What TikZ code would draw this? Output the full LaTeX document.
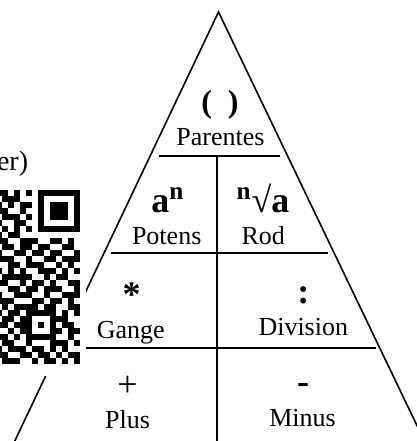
\documentclass[tikz,border=0pt]{standalone}
\usepackage{fontspec}
\setmainfont{Liberation Serif}
\makeatletter
% one row of the code: row number, bits of columns 15..28
\newcommand\qrrow[2]{%
  \pgfmathsetmacro\qry{190+6*#1}%
  \def\qrx{-4}%
  \@tfor\qrb:=#2\do{%
    \ifnum\qrb=1 \fill (\qrx,\qry) rectangle ++(6,6);\fi
    \pgfmathsetmacro\qrx{\qrx+6}}}
\makeatother
\begin{document}
\begin{tikzpicture}[x=0.5pt,y=-0.5pt]
  \tikzset{ lbl/.style={font=\fontsize{13}{15}\selectfont,anchor=base},
    sym/.style={font=\fontsize{18}{20}\selectfont\bfseries,anchor=base},
    tri/.style={line width=0.8pt},
    divider/.style={line width=1pt},
  }
  \useasboundingbox (0,0) rectangle (417,441);
  \clip (0,0) rectangle (417,441);

  % the triangle
  \coordinate (apex) at (218.5,12);
  \coordinate (bl) at (1,470);
  \coordinate (br) at (438.3,470);
  \draw[tri] (bl) -- (apex) -- (br);

  % the rows and the middle line
  \draw[divider] (159,156) -- (280,156);
  \draw[divider] (110.7,252.7) -- (328.3,252.7);
  \draw[divider] (64,348.3) -- (376,348.3);
  \draw[divider] (217,156) -- (217,450);

  % the texts
  \node[sym,font=\fontsize{16}{18}\selectfont\bfseries] (paren) at (220,112) {(~~)};
  \node[lbl] (parenlbl) at (220.5,145) {Parentes};
  \node[sym] (pow) at (168,212) {a\textsuperscript{n}};
  \node[lbl] (powlbl) at (166.7,244) {Potens};
  \node[sym] (root) at (263,212) {\textsuperscript{n}√a};
  \node[lbl] (rootlbl) at (263.3,244) {Rod};
  \node[sym] (mul) at (131.7,306) {*};
  \node[lbl] (mullbl) at (130.8,338) {Gange};
  \node[sym] (div) at (303.3,303) {:};
  \node[lbl] (divlbl) at (303.3,335) {Division};
  \node[sym,font=\fontsize{18}{20}\selectfont] (plus) at (127.5,396) {+};
  \node[lbl] (pluslbl) at (127.5,428) {Plus};
  \node[sym] (minus) at (303,393) {-};
  \node[lbl] (minuslbl) at (302.5,426.7) {Minus};
  \node[lbl,anchor=base east,inner sep=0pt,font=\fontsize{14}{16}\selectfont] (qrtxt) at (28.5,170) {er)};

  % the code
  \fill[white] (-10,178) rectangle (86,376);
  \qrrow{0}{11010101111111}
  \qrrow{1}{01110001000001}
  \qrrow{2}{10101101011101}
  \qrrow{3}{11001001011101}
  \qrrow{4}{01110101011101}
  \qrrow{5}{10011001000001}
  \qrrow{6}{01010101111111}
  \qrrow{7}{10110000000000}
  \qrrow{8}{11001110011010}
  \qrrow{9}{01101101100110}
  \qrrow{10}{10011011011001}
  \qrrow{11}{11100100110111}
  \qrrow{12}{00110111001010}
  \qrrow{13}{10101001110101}
  \qrrow{14}{01111100101100}
  \qrrow{15}{11001011010011}
  \qrrow{16}{00110110111001}
  \qrrow{17}{10011100100111}
  \qrrow{18}{11100011011010}
  \qrrow{19}{01011110110011}
  \qrrow{20}{10110111110101}
  \qrrow{21}{01101100011100}
  \qrrow{22}{11011101010110}
  \qrrow{23}{00101100011011}
  \qrrow{24}{11010111110010}
  \qrrow{25}{01100100011101}
  \qrrow{26}{10111011010100}
  \qrrow{27}{11001101101011}
  \qrrow{28}{01110010110101}
\end{tikzpicture}
\end{document}
